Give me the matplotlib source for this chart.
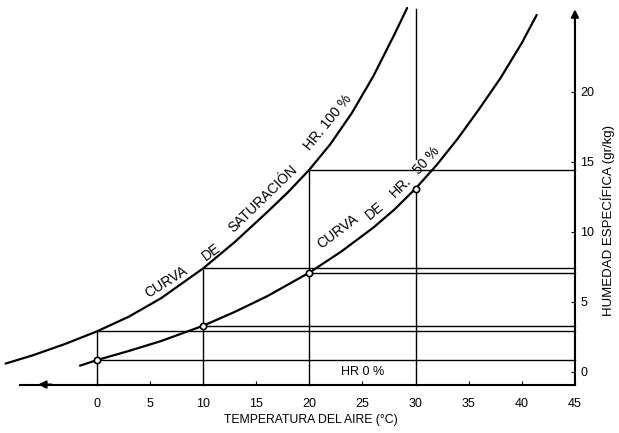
import matplotlib
matplotlib.use("Agg")
import matplotlib.pyplot as plt

plt.rcParams['font.family'] = ['Liberation Sans', 'DejaVu Sans']

# saturation curve (HR 100 %)
sat_temp = [-8.6, -6, -3, 0, 3, 6, 10, 13, 16, 18, 20, 22, 24, 26, 28, 29.2]
sat_hum = [0.6, 1.2, 2.0, 2.9, 3.95, 5.25, 7.4, 9.3, 11.4, 12.85, 14.45,
           16.3, 18.5, 21.1, 24.1, 26.0]

# HR 50 % curve
half_temp = [-1.6, 0, 3, 6, 10, 13, 16, 20, 23, 26, 28, 30, 32, 34, 36, 38,
             40, 41.4]
half_hum = [0.45, 0.85, 1.5, 2.2, 3.3, 4.3, 5.4, 7.1, 8.6, 10.3, 11.6, 13.1,
            14.8, 16.7, 18.8, 21.0, 23.5, 25.5]

# points marked on the chart
mark_temp = [0, 10, 20, 30]
mark_half = [0.85, 3.3, 7.1, 13.1]
guide_temp = [0, 10, 20]
guide_sat = [2.9, 7.4, 14.45]
guide_half = [0.85, 3.3, 7.1]

x_ticks = [0, 5, 10, 15, 20, 25, 30, 35, 40, 45]
y_ticks = [0, 5, 10, 15, 20]

axis_y = -0.9     # where the temperature axis sits
axis_x = 45       # where the humidity axis sits
top_hum = 25.9

fig = plt.figure(figsize=(6.19, 4.33), dpi=100)
ax = fig.add_axes([0, 0, 1, 1])
ax.set_xlim(-9.13, 49.15)
ax.set_ylim(-4.36, 26.57)

# curves
ax.plot(sat_temp, sat_hum, color='black', lw=1.6, solid_capstyle='round',
        solid_joinstyle='round')
ax.plot(half_temp, half_hum, color='black', lw=1.6, solid_capstyle='round',
        solid_joinstyle='round')

# guide lines
for t, s, h in zip(guide_temp, guide_sat, guide_half):
    ax.plot([t, t], [axis_y, s], color='black', lw=1.0)
    ax.plot([t, axis_x], [s, s], color='black', lw=1.0)
    ax.plot([t, axis_x], [h, h], color='black', lw=1.0)
ax.plot([mark_temp[3], mark_temp[3]], [axis_y, mark_half[3]], color='black', lw=1.0)
ax.plot([mark_temp[3], mark_temp[3]], [15.2, top_hum], color='black', lw=1.0)

ax.plot(mark_temp, mark_half, 'o', ms=4.5, mfc='white', mec='black', mew=1.2,
        zorder=5)

# axes
for side in ['top', 'left']:
    ax.spines[side].set_visible(False)
ax.spines['bottom'].set_position(('data', axis_y))
ax.spines['bottom'].set_bounds(-7.25, axis_x)
ax.spines['right'].set_position(('data', axis_x))
ax.spines['right'].set_bounds(axis_y, 25.0)
ax.spines['bottom'].set_linewidth(1.5)
ax.spines['right'].set_linewidth(1.5)
ax.xaxis.set_ticks_position('bottom')
ax.yaxis.set_ticks_position('right')
ax.set_xticks(x_ticks)
ax.set_yticks(y_ticks)
ax.tick_params(axis='x', direction='in', length=3, pad=10, labelsize=9)
ax.tick_params(axis='y', direction='in', length=3, pad=4, labelsize=9)

ax.annotate('', xy=(axis_x, 26.1), xytext=(axis_x, 24.6),
            arrowprops=dict(arrowstyle='-|>', color='black', lw=1.5,
                            mutation_scale=11))
ax.annotate('', xy=(-5.8, axis_y), xytext=(-4.0, axis_y),
            arrowprops=dict(arrowstyle='-|>', color='black', lw=1.5,
                            mutation_scale=11))

ax.text(20.15, -3.45, 'TEMPERATURA DEL AIRE (°C)', ha='center', va='center',
        fontsize=8.8)
ax.text(48.1, 10.8, 'HUMEDAD ESPECÍFICA (gr/kg)', ha='center', va='center',
        rotation=90, fontsize=9.5)
ax.text(25.0, 0.0, 'HR 0 %', ha='center', va='center', fontsize=9)

# words along the curves
sat_words = [('CURVA', 6.5, 6.43, 32), ('DE', 10.73, 8.57, 36),
             ('SATURACIÓN', 15.63, 12.36, 44), ('HR. 100 %', 21.75, 17.8, 51)]
half_words = [('CURVA', 22.7, 10.0, 37), ('DE', 26.1, 11.5, 40),
              ('HR.', 28.6, 13.2, 44), ('50 %', 31.0, 15.07, 48)]
for word, x, y, rot in sat_words + half_words:
    ax.text(x, y, word, ha='center', va='center', rotation=rot,
            rotation_mode='anchor', fontsize=10)

fig.savefig('out.png', dpi=100)
